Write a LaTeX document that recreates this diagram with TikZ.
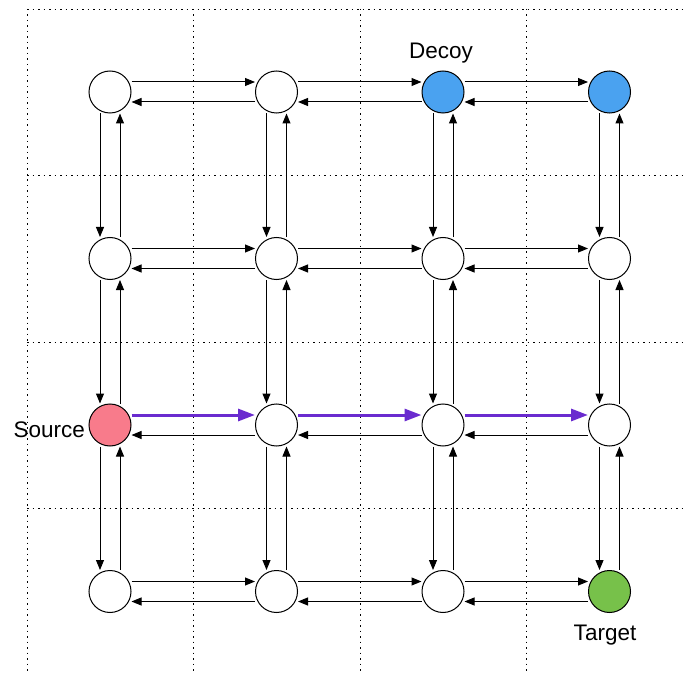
\documentclass[tikz,border=0pt]{standalone}
\usepackage{fontspec}
\setmainfont{Liberation Sans}
\usetikzlibrary{arrows.meta}
\definecolor{srcred}{HTML}{F87B8B}
\definecolor{decoyblue}{HTML}{4AA2F0}
\definecolor{tgtgreen}{HTML}{77C14A}
\definecolor{pathpurple}{HTML}{6A2BCF}
\begin{document}
\begin{tikzpicture}[x=1pt,y=-1pt,
  state/.style={circle,draw=black,line width=1pt,minimum size=42pt,inner sep=0pt,fill=white},
  link/.style={draw=black,line width=1pt,-{Triangle[length=10pt,width=8pt]}},
  hop/.style={draw=pathpurple,line width=3pt,-{Triangle[length=17pt,width=12pt]}},
  gridline/.style={line width=0.9pt,dash pattern=on 1.5pt off 4pt},
  lbl/.style={font=\fontsize{22.5}{27}\selectfont}]
\useasboundingbox (0,0) rectangle (686,674);
% dotted background grid
\foreach \x in {27,193.5,360,526.5} \draw[gridline] (\x,9) -- (\x,674);
\foreach \y in {9,175.5,342,508.5} \draw[gridline] (27,\y) -- (686,\y);
% states: n<column><row>
\node[state] (n11) at (110,92) {};
\node[state] (n21) at (276.5,92) {};
\node[state,fill=decoyblue] (n31) at (443,92) {};
\node[state,fill=decoyblue] (n41) at (609.5,92) {};
\node[state] (n12) at (110,258.5) {};
\node[state] (n22) at (276.5,258.5) {};
\node[state] (n32) at (443,258.5) {};
\node[state] (n42) at (609.5,258.5) {};
\node[state,fill=srcred] (n13) at (110,425) {};
\node[state] (n23) at (276.5,425) {};
\node[state] (n33) at (443,425) {};
\node[state] (n43) at (609.5,425) {};
\node[state] (n14) at (110,591.5) {};
\node[state] (n24) at (276.5,591.5) {};
\node[state] (n34) at (443,591.5) {};
\node[state,fill=tgtgreen] (n44) at (609.5,591.5) {};
% horizontal transitions (row 3 forward moves are the highlighted route)
\foreach \r in {1,2,3,4}{
  \foreach \c in {1,2,3}{
    \pgfmathtruncatemacro{\d}{\c+1}
    \ifnum\r=3
      \draw[hop] ([yshift=10pt]n\c\r.east) -- ([yshift=10pt]n\d\r.west);
    \else
      \draw[link] ([yshift=10pt]n\c\r.east) -- ([yshift=10pt]n\d\r.west);
    \fi
    \draw[link] ([yshift=-10pt]n\d\r.west) -- ([yshift=-10pt]n\c\r.east);
  }
}
% vertical transitions
\foreach \c in {1,2,3,4}{
  \foreach \r in {1,2,3}{
    \pgfmathtruncatemacro{\s}{\r+1}
    \draw[link] ([xshift=-10pt]n\c\r.south) -- ([xshift=-10pt]n\c\s.north);
    \draw[link] ([xshift=10pt]n\c\s.north) -- ([xshift=10pt]n\c\r.south);
  }
}
% labels
\node[lbl,anchor=base east,inner sep=0pt] (srclbl) at (85,437) {Source};
\node[lbl,anchor=base,inner sep=0pt] (decoylbl) at (441,59) {Decoy};
\node[lbl,anchor=base,inner sep=0pt] (tgtlbl) at (605,640) {Target};
\end{tikzpicture}
\end{document}
